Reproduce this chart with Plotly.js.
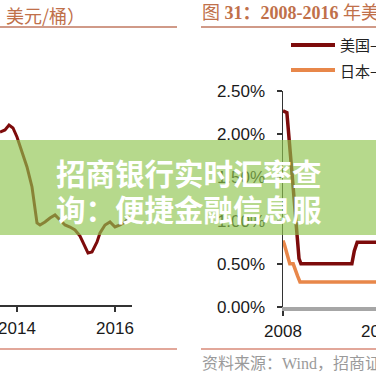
<!DOCTYPE html>
<html><head><meta charset="utf-8">
<script src="https://cdn.plot.ly/plotly-3.0.1.min.js"></script>
<style>html,body{margin:0;padding:0;overflow:hidden;background:#fff;width:376px;height:376px}#chart{width:440px;height:376px}</style>
</head><body><div id="chart"></div>
<script>
// Left panel: oil price (USD / barrel)
const oilYears = [2013.653,2013.755,2013.837,2013.918,2014.0,2014.102,2014.204,2014.306,2014.367,2014.408,2014.469,2014.571,2014.673,2014.776,2014.878,2014.98,2015.082,2015.184,2015.286,2015.388,2015.449,2015.531,2015.633,2015.694,2015.796,2015.898,2016.0,2016.102,2016.204,2016.306];
const oilPrices = [89.2,90,92,90.8,87.2,80.8,75.2,67.2,58,52.8,52,53.2,54.8,56,54,52,51.2,50,47.6,43,40.8,41.2,45.2,48.8,52,53.2,51.2,52,53.2,55.2];
const oilTicks = [2014, 2016];

// Right panel: rates
const usYears = [2008.0,2008.08,2008.17,2008.25,2008.29,2008.33,2008.37,2009.42,2009.47,2009.53,2011.3];
const usRates = [2.27,2.25,1.65,1.1,0.83,0.56,0.5,0.5,0.65,0.75,0.75];
const jpYears = [2008.0,2008.03,2008.14,2008.21,2008.3,2008.35,2011.3];
const jpRates = [0.77,0.72,0.5,0.5,0.36,0.29,0.29];
const rateTicks = [0,0.5,1.0,1.5,2.0,2.5];
const rateTickText = ['0.00%','0.50%','1.00%','1.50%','2.00%','2.50%'];
const yearTicks = [2008, 2010];

const W = 440, H = 376;
const px = x => x / W, py = y => 1 - y / H;
const RED = '#7d0b0b', ORANGE = '#e8874a';
const tickFont = {family: 'Liberation Sans, Arial, sans-serif', size: 17, color: '#1a1a1a'};
const cjk = 'Noto Sans CJK SC, sans-serif';

const traces = [
  {x: oilYears, y: oilPrices, xaxis: 'x', yaxis: 'y', mode: 'lines', line: {color: RED, width: 3}, hoverinfo: 'skip'},
  {x: usYears, y: usRates, xaxis: 'x2', yaxis: 'y2', mode: 'lines', line: {color: RED, width: 3.5}, hoverinfo: 'skip'},
  {x: jpYears, y: jpRates, xaxis: 'x2', yaxis: 'y2', mode: 'lines', line: {color: ORANGE, width: 3.5}, hoverinfo: 'skip'}
];

const layout = {
  width: W, height: H, margin: {l: 0, r: 0, t: 0, b: 0},
  paper_bgcolor: '#fff', plot_bgcolor: 'rgba(0,0,0,0)', showlegend: false,
  xaxis: {domain: [0, px(132)], range: [2013.653, 2016.347], tickvals: oilTicks, ticktext: oilTicks.map(String),
    showline: true, linecolor: '#333', linewidth: 1.5, ticks: 'outside', ticklen: 5, tickcolor: '#333', tickwidth: 1.5,
    showgrid: false, zeroline: false, tickfont: tickFont, ticklabelstandoff: 2, ticklabeloverflow: 'allow', anchor: 'y'},
  yaxis: {domain: [py(305), py(30)], range: [20, 130], visible: false, anchor: 'x'},
  xaxis2: {domain: [px(283), 1], range: [2008, 2011.237], tickvals: yearTicks, ticktext: yearTicks.map(String),
    showline: true, linecolor: '#a6a6a6', linewidth: 3.5, ticks: 'outside', ticklen: 5, tickcolor: '#333', tickwidth: 1.5,
    showgrid: false, zeroline: false, tickfont: tickFont, ticklabelstandoff: 1, ticklabeloverflow: 'allow', anchor: 'y2'},
  yaxis2: {domain: [py(307), py(91)], range: [0, 2.5], tickvals: rateTicks, ticktext: rateTickText,
    showline: true, linecolor: '#333', linewidth: 1.5, ticks: 'outside', ticklen: 5, tickcolor: '#333', tickwidth: 1.5,
    showgrid: false, zeroline: false, tickfont: tickFont, ticklabelstandoff: 8, anchor: 'x2'},
  shapes: [
    {type: 'line', xref: 'paper', yref: 'paper', x0: 0, x1: px(177), y0: py(27), y1: py(27), line: {color: '#c07860', width: 1.5}},
    {type: 'line', xref: 'paper', yref: 'paper', x0: px(201), x1: 1, y0: py(27), y1: py(27), line: {color: '#c07860', width: 1.5}},
    {type: 'line', xref: 'paper', yref: 'paper', x0: 0, x1: px(177), y0: py(349), y1: py(349), line: {color: '#d98a78', width: 1.5}},
    {type: 'line', xref: 'paper', yref: 'paper', x0: px(201), x1: 1, y0: py(349), y1: py(349), line: {color: '#d98a78', width: 1.5}},
    {type: 'line', xref: 'paper', yref: 'paper', x0: px(291), x1: px(335), y0: py(45), y1: py(45), line: {color: RED, width: 4}},
    {type: 'line', xref: 'paper', yref: 'paper', x0: px(291), x1: px(335), y0: py(70), y1: py(70), line: {color: ORANGE, width: 4}},
    {type: 'rect', xref: 'paper', yref: 'paper', x0: 0, x1: 1, y0: py(235), y1: py(140), fillcolor: 'rgba(143,197,78,0.65)', line: {width: 0}, layer: 'above'}
  ],
  annotations: [
    {xref: 'paper', yref: 'paper', x: px(4), y: py(14.5), xanchor: 'left', yanchor: 'middle', showarrow: false,
      text: '美元/桶）', font: {family: cjk, size: 18, color: '#c0704a'}},
    {xref: 'paper', yref: 'paper', x: px(200), y: py(13), xanchor: 'left', yanchor: 'middle', showarrow: false,
      text: '图 <b>31：2008-2016</b> 年美日央行基准利率', font: {family: 'Liberation Serif, ' + cjk, size: 18, color: '#c0704a'}},
    {xref: 'paper', yref: 'paper', x: px(338), y: py(45), xanchor: 'left', yanchor: 'middle', showarrow: false,
      text: '美国—基准利率', font: {family: cjk, size: 15, color: '#222'}},
    {xref: 'paper', yref: 'paper', x: px(338), y: py(70), xanchor: 'left', yanchor: 'middle', showarrow: false,
      text: '日本—基准利率', font: {family: cjk, size: 15, color: '#222'}},
    {xref: 'paper', yref: 'paper', x: px(200), y: py(363), xanchor: 'left', yanchor: 'middle', showarrow: false,
      text: '资料来源：Wind，招商证券', font: {family: 'Liberation Serif, ' + cjk, size: 16, color: '#9a9a9a'}},
    {xref: 'paper', yref: 'paper', x: px(188.5), y: py(172), xanchor: 'center', yanchor: 'middle', showarrow: false,
      text: '<b>招商银行实时汇率查</b>', font: {family: cjk, size: 29.5, color: '#ffffff'}},
    {xref: 'paper', yref: 'paper', x: px(188.5), y: py(208), xanchor: 'center', yanchor: 'middle', showarrow: false,
      text: '<b>询：便捷金融信息服</b>', font: {family: cjk, size: 29.5, color: '#ffffff'}}
  ]
};

Plotly.newPlot('chart', traces, layout, {staticPlot: true, displayModeBar: false});
</script>
</body></html>
